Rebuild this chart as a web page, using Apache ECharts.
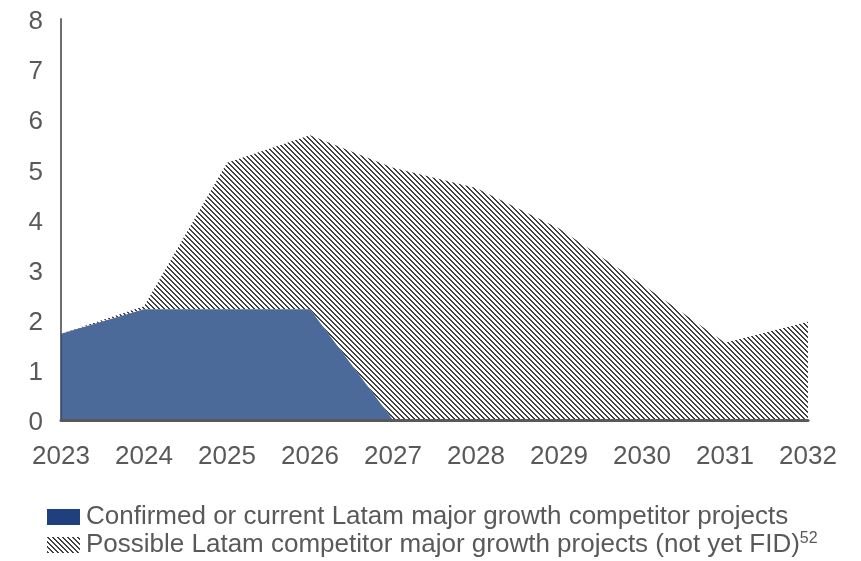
<!DOCTYPE html>
<html>
<head>
<meta charset="utf-8">
<script src="https://cdn.jsdelivr.net/npm/echarts@6/dist/echarts.min.js"></script>
<style>html,body{margin:0;padding:0;background:#fff;}#c{width:861px;height:561px;}</style>
</head>
<body>
<div id="c"></div>
<script>
const categories = ['2023','2024','2025','2026','2027','2028','2029','2030','2031','2032'];
const confirmedValues = [1.72, 2.21, 2.21, 2.21, 0, 0, 0, 0, 0, 0];
const possibleValues = [0, 0.06, 2.92, 3.47, 5.03, 4.63, 3.82, 2.71, 1.54, 1.96];
const yTicks = [0, 1, 2, 3, 4, 5, 6, 7, 8];
const seriesNames = ['Confirmed or current Latam major growth competitor projects',
                     'Possible Latam competitor major growth projects (not yet FID)'];
const footnote = '52';

function hatch() {
  const P = 5;
  const c = document.createElement('canvas');
  c.width = P; c.height = P;
  const ctx = c.getContext('2d');
  ctx.fillStyle = '#ffffff';
  ctx.fillRect(0, 0, P, P);
  ctx.fillStyle = '#424242';
  for (let x = 0; x < P; x++) {
    for (let y = 0; y < P; y++) {
      const d = ((x - y) % P + P) % P;
      if (d < 2) ctx.fillRect(x, y, 1, 1);
    }
  }
  return { image: c, repeat: 'repeat' };
}
const pat = hatch();
const txtColor = '#595959';
const font = 'Liberation Sans, Arial, sans-serif';
const legendText = {
  color: txtColor, fontSize: 26, lineHeight: 28, fontFamily: font, padding: [0, 0, 0, 1],
  rich: { sup: { fontSize: 16, lineHeight: 16, color: txtColor, padding: [0, 0, 12, 0], fontFamily: font } }
};
const chart = echarts.init(document.getElementById('c'), null, { renderer: 'canvas' });
chart.setOption({
  animation: false,
  backgroundColor: '#ffffff',
  grid: { left: 61, right: 53, top: 19, bottom: 141, containLabel: false },
  xAxis: {
    type: 'category', data: categories, boundaryGap: false, z: 10,
    axisLine: { show: true, lineStyle: { color: '#595959', width: 3 } },
    axisTick: { show: false },
    axisLabel: { color: txtColor, fontSize: 26, fontFamily: font, margin: 24 },
    splitLine: { show: false }
  },
  yAxis: {
    type: 'value', min: yTicks[0], max: yTicks[yTicks.length - 1], interval: 1,
    axisLine: { show: true, lineStyle: { color: '#6e6e6e', width: 2 } },
    axisTick: { show: false },
    axisLabel: {
      color: txtColor, fontSize: 26, fontFamily: font, margin: 18,
      formatter: function (v) { return '{a|' + v + '}'; },
      rich: { a: { color: txtColor, fontSize: 26, fontFamily: font, padding: [6, 0, 0, 0] } }
    },
    splitLine: { show: false }
  },
  legend: [
    {
      orient: 'vertical', left: 47, top: 503, padding: 0, itemWidth: 33, itemHeight: 16, itemGap: 0,
      icon: 'rect',
      data: [{ name: seriesNames[0], itemStyle: { color: '#1f3f7f', borderWidth: 0 } }],
      textStyle: legendText
    },
    {
      orient: 'vertical', left: 47, top: 531, padding: 0, itemWidth: 33, itemHeight: 16, itemGap: 0,
      icon: 'rect',
      data: [{ name: seriesNames[1], itemStyle: { color: pat, borderWidth: 0 } }],
      formatter: function (n) { return n + '{sup|' + footnote + '}'; },
      textStyle: legendText
    }
  ],
  series: [
    {
      name: seriesNames[0], type: 'line', stack: 'total', data: confirmedValues,
      symbol: 'none', lineStyle: { width: 0 },
      itemStyle: { color: '#1e4480' },
      areaStyle: { color: '#1e4480', opacity: 0.8 }, z: 3
    },
    {
      name: seriesNames[1], type: 'line', stack: 'total', data: possibleValues,
      symbol: 'none', lineStyle: { width: 0 },
      itemStyle: { color: pat },
      areaStyle: { color: pat, opacity: 1 }, z: 2
    }
  ]
});
</script>
</body>
</html>
